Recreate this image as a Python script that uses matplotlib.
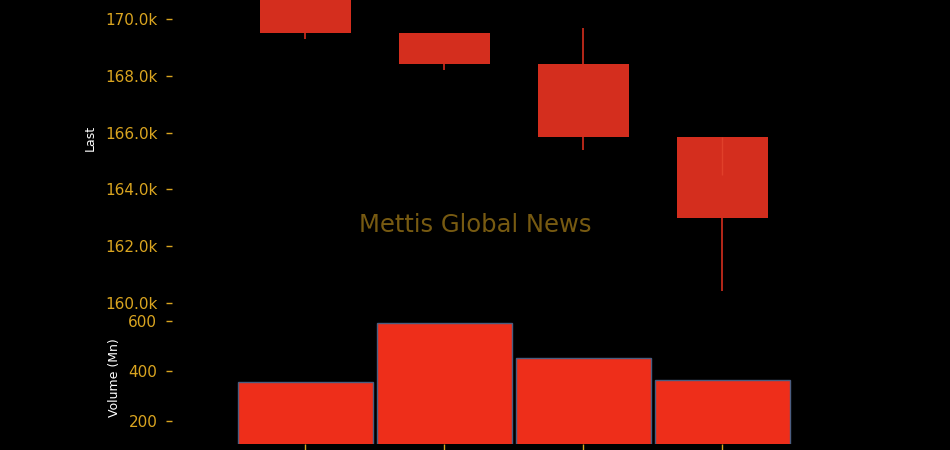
import matplotlib
matplotlib.use("Agg")
import matplotlib.pyplot as plt
import numpy as np

# datos de las velas (todas a la baja)
opens = [171200, 169510, 168420, 165850]
closes = [169510, 168420, 165850, 163000]
highs = [171500, 169510, 169680, 165850]
lows = [169300, 168200, 165390, 160420]
volume = [356, 592, 452, 364]  # en millones

x = np.arange(len(opens))

fig = plt.figure(figsize=(9.5, 4.5), dpi=100, facecolor="black")
ax1 = fig.add_axes([0.181, 0.3133, 0.72, 0.76], facecolor="black")
ax2 = fig.add_axes([0.181, 0.0133, 0.72, 0.2933], facecolor="black")

# velas
ax1.vlines(x, lows, highs, color="#d42e1e", linewidth=1.2, zorder=1)
bottoms = [min(o, c) for o, c in zip(opens, closes)]
heights = [abs(o - c) for o, c in zip(opens, closes)]
ax1.bar(x, heights, bottom=bottoms, width=0.65, color="#d42e1e", zorder=2)
# la mecha se nota un poco dentro del cuerpo de la ultima vela
ax1.vlines(x[-1], 164500, highs[-1], color="#e0402a", linewidth=1, zorder=3)
ax1.set_ylim(159790, 171830)
ax1.set_xlim(-0.96, 3.96)
ax1.yaxis.set_major_formatter(matplotlib.ticker.FuncFormatter(lambda v, p: f"{v/1000:.1f}k"))
ax1.set_yticks([160000, 162000, 164000, 166000, 168000, 170000])
ax1.set_xticks([])
ax1.set_ylabel("Last", color="white", fontsize=9, labelpad=6)

# volumen
ax2.bar(x, volume, width=0.97, color="#ee2e1a", edgecolor="#4b5d80", linewidth=1)
ax2.set_ylim(108, 636)
ax2.set_xlim(-0.96, 3.96)
ax2.set_yticks([200, 400, 600])
ax2.set_xticks(x)
ax2.set_xticklabels([""] * len(x))
ax2.set_ylabel("Volume (Mn)", color="white", fontsize=9, labelpad=5)

for ax in (ax1, ax2):
    for s in ax.spines.values():
        s.set_visible(False)
    ax.tick_params(colors="goldenrod", labelsize=11, length=4, width=1, pad=6.5)

fig.text(0.5, 0.5, "Mettis Global News", color="goldenrod", alpha=0.55,
         fontsize=17.5, ha="center", va="center")

fig.savefig("out.png", dpi=100, facecolor="black")
